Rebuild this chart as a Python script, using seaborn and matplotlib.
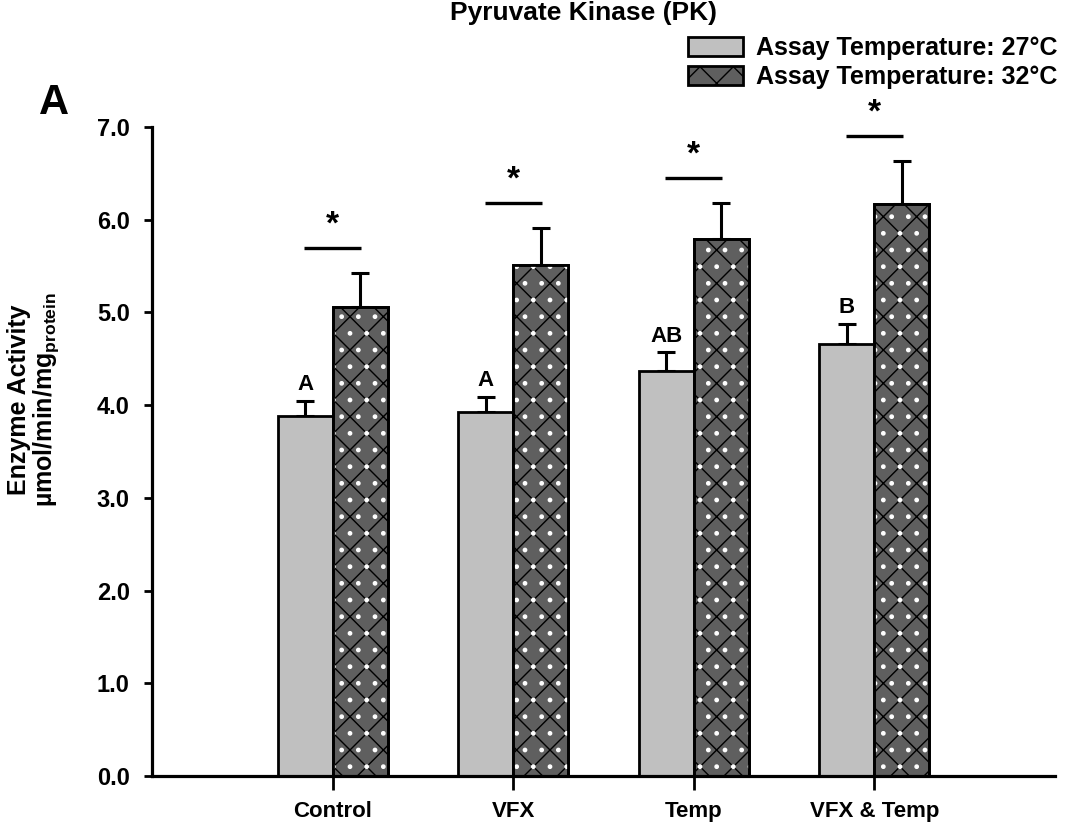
import matplotlib
matplotlib.use("Agg")
import matplotlib.pyplot as plt
from matplotlib.patches import Patch, Rectangle
import pandas as pd
import seaborn as sns

# Group means and SEM for each assay temperature
groups = ["Control", "VFX", "Temp", "VFX & Temp"]
temps = ["Assay Temperature: 27°C", "Assay Temperature: 32°C"]
mean_27 = [3.88, 3.93, 4.37, 4.66]
sem_27 = [0.17, 0.16, 0.20, 0.22]
mean_32 = [5.06, 5.51, 5.79, 6.17]
sem_32 = [0.37, 0.40, 0.39, 0.46]
letters_27 = ["A", "A", "AB", "B"]
stars = ["*", "*", "*", "*"]
yticks = [0.0, 1.0, 2.0, 3.0, 4.0, 5.0, 6.0, 7.0]

sns.set_theme(style="white")
plt.rcParams["font.family"] = ["Liberation Sans", "DejaVu Sans"]
plt.rcParams["font.weight"] = "bold"
plt.rcParams["hatch.linewidth"] = 1.0
for key in ["text.color", "axes.labelcolor", "xtick.color", "ytick.color"]:
    plt.rcParams[key] = "black"

light = "#c0c0c0"
dark = "#5f5f5f"

df = pd.DataFrame({
    "group": groups * 2,
    "temp": [temps[0]] * 4 + [temps[1]] * 4,
    "value": mean_27 + mean_32,
})

fig = plt.figure(figsize=(10.66, 8.34), dpi=100)
ax = fig.add_axes([152 / 1066, 58 / 834, (1055 - 152) / 1066, (776 - 127) / 834])

sns.barplot(data=df, x="group", y="value", hue="temp", order=groups,
            hue_order=temps, palette=[light, dark], width=0.61,
            edgecolor="black", linewidth=2.0, errorbar=None, legend=False,
            ax=ax, zorder=2)

bars_27, bars_32 = ax.containers[0], ax.containers[1]

# hatched lattice with white dots on the 32 °C bars
for p in bars_32:
    p.set_hatch("x")
    ax.add_patch(Rectangle(p.get_xy(), p.get_width(), p.get_height(),
                           fill=False, hatch=".", edgecolor="white",
                           linewidth=0, zorder=2.5))
    ax.add_patch(Rectangle(p.get_xy(), p.get_width(), p.get_height(),
                           fill=False, edgecolor="black", linewidth=2.0,
                           zorder=2.6))

# one-sided (upper) error bars
def upper_errors(bars, means, sems):
    xs = [p.get_x() + p.get_width() / 2 for p in bars]
    ax.errorbar(xs, means, yerr=[[0] * len(sems), sems], fmt="none",
                ecolor="black", elinewidth=2.2, capsize=6.5, capthick=2.2,
                zorder=1.5)
    return xs

x27 = upper_errors(bars_27, mean_27, sem_27)
x32 = upper_errors(bars_32, mean_32, sem_32)

# group letters over the 27 °C bars
for x, m, s, lab in zip(x27, mean_27, sem_27, letters_27):
    ax.text(x, m + s + 0.06, lab, ha="center", va="bottom",
            fontsize=16, fontweight="bold")

# significance markers between temperatures
for i, (m, s, st) in enumerate(zip(mean_32, sem_32, stars)):
    y_line = m + s + 0.27
    ax.plot([i - 0.158, i + 0.158], [y_line, y_line], color="black",
            lw=2.4, solid_capstyle="butt", clip_on=False)
    ax.text(i, y_line + 0.08, st, ha="center", va="bottom",
            fontsize=24, fontweight="bold")

ax.set_xlim(-1.0, 4.0)
ax.set_ylim(0, 7.0)
ax.set_yticks(yticks)
ax.set_yticklabels([f"{t:.1f}" for t in yticks])
ax.set_xlabel("")
ax.set_ylabel("Enzyme Activity\nµmol/min/mg$_{\\mathregular{protein}}$",
              fontsize=18, fontweight="bold", linespacing=1.0)
ax.yaxis.set_label_coords(-0.101, 0.58)

for side in ["top", "right"]:
    ax.spines[side].set_visible(False)
for side in ["left", "bottom"]:
    ax.spines[side].set_linewidth(2.3)
    ax.spines[side].set_color("black")

ax.tick_params(axis="y", direction="out", length=6, width=2.0, pad=10,
               labelsize=17, left=True)
ax.tick_params(axis="x", direction="out", length=10, width=2.0, pad=8,
               labelsize=16, bottom=True)
for lab in ax.get_xticklabels() + ax.get_yticklabels():
    lab.set_fontweight("bold")

fig.text(584 / 1066, 1 - 13 / 834, "Pyruvate Kinase (PK)", ha="center",
         va="center", fontsize=19, fontweight="bold")
fig.text(39 / 1066, 1 - 103 / 834, "A", ha="left", va="center",
         fontsize=30, fontweight="bold")

handles = [
    Patch(facecolor=light, edgecolor="black", linewidth=2.0),
    Patch(facecolor=dark, edgecolor="black", linewidth=2.0, hatch="x"),
]
fig.legend(handles, temps, loc="upper right",
           bbox_to_anchor=(1058 / 1066, 1 - 36 / 834), frameon=False,
           handlelength=2.2, handleheight=0.8,
           handletextpad=0.55, labelspacing=0.2, borderpad=0,
           borderaxespad=0, prop={"weight": "bold", "size": 18})

fig.savefig("out.png", dpi=100)
